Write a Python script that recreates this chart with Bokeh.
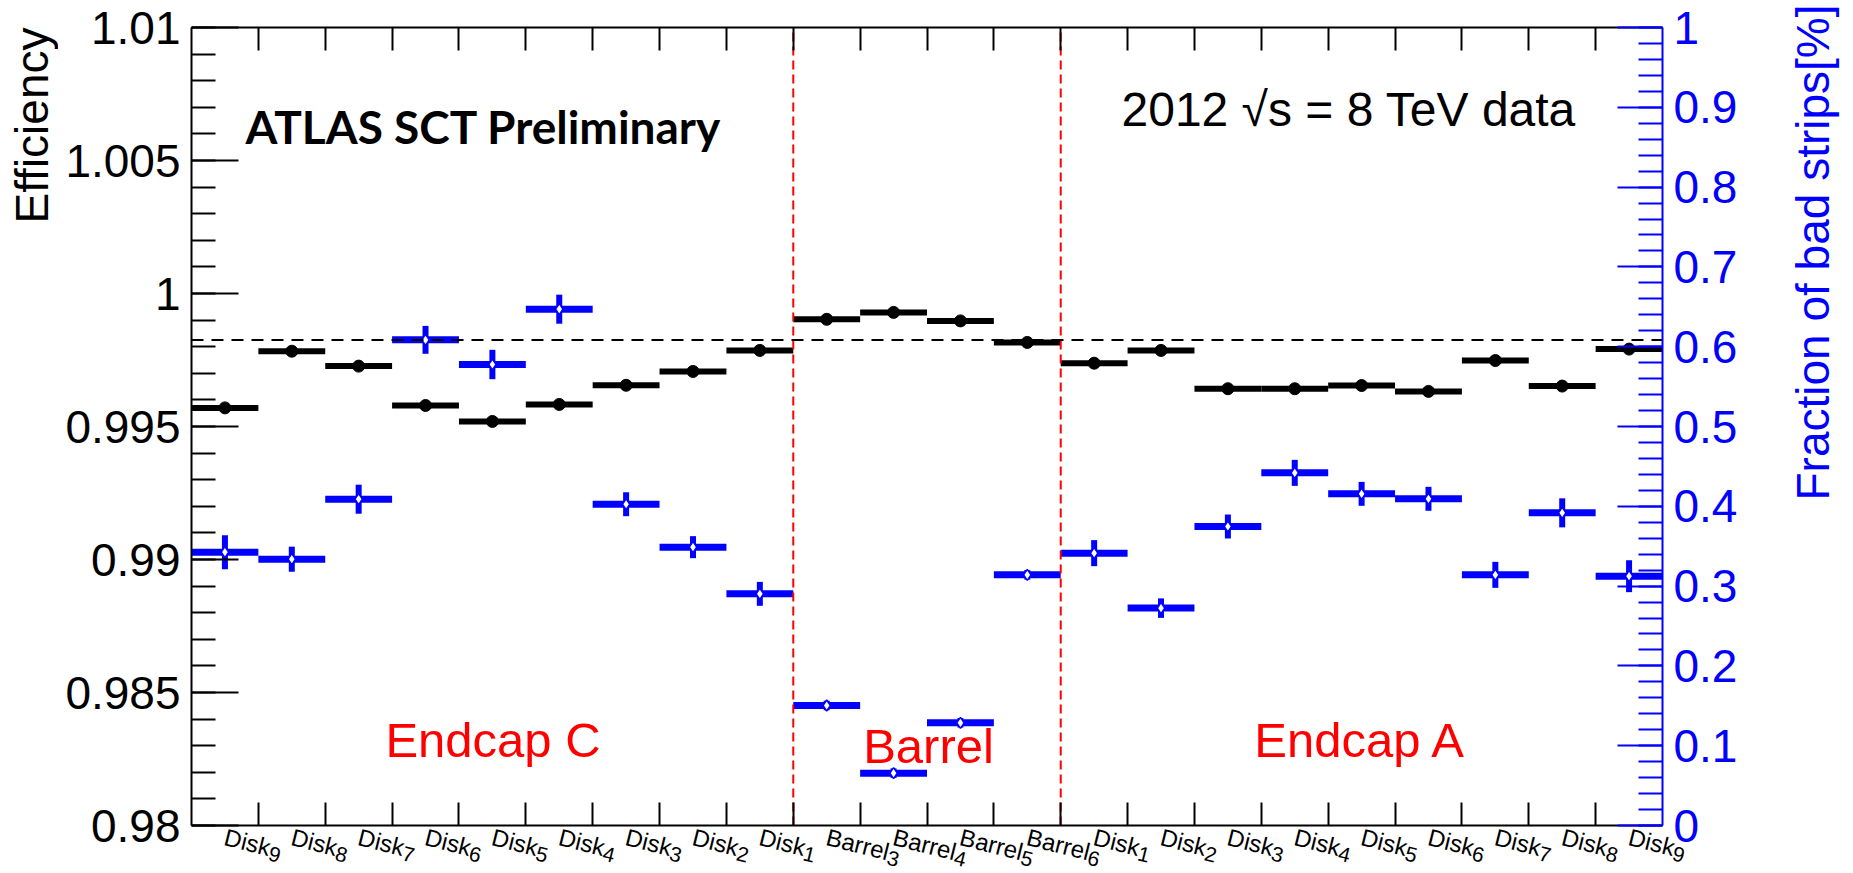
import math
import numpy as np
from bokeh.plotting import figure
from bokeh.layouts import row
from bokeh.core.properties import value
from bokeh.models import (Range1d, LinearAxis, FixedTicker, CustomJSTickFormatter,
                          Label, ColumnDataSource)
from bokeh.embed import file_html
from bokeh.resources import INLINE

# ---- data -------------------------------------------------------------
region_names = ["Endcap C", "Barrel", "Endcap A"]
layer_names = (["Disk"] * 9) + (["Barrel"] * 4) + (["Disk"] * 9)
layer_numbers = ["9", "8", "7", "6", "5", "4", "3", "2", "1",
                 "3", "4", "5", "6",
                 "1", "2", "3", "4", "5", "6", "7", "8", "9"]

efficiency = [0.99570, 0.99783, 0.99727, 0.99579, 0.99519, 0.99583, 0.99655, 0.99707, 0.99786,
              0.99903, 0.99929, 0.99897, 0.99816,
              0.99738, 0.99786, 0.99642, 0.99642, 0.99654, 0.99632, 0.99748, 0.99652, 0.99791]

bad_strip_fraction = [0.3425, 0.3337, 0.4089, 0.6086, 0.5777, 0.6470, 0.4026, 0.3488, 0.2903,
                      0.1504, 0.0656, 0.1287, 0.3141,
                      0.3413, 0.2724, 0.3747, 0.4419, 0.4156, 0.4094, 0.3141, 0.3918, 0.3124]

bad_strip_error = [0.0213, 0.0157, 0.0182, 0.0175, 0.0184, 0.0182, 0.0150, 0.0138, 0.0150,
                   0.0060, 0.0060, 0.0060, 0.0060,
                   0.0163, 0.0122, 0.0150, 0.0163, 0.0150, 0.0150, 0.0163, 0.0182, 0.0200]

mean_efficiency = 0.99825

eff_ticks = [0.98, 0.985, 0.99, 0.995, 1.0, 1.005, 1.01]
frac_ticks = [0.0, 0.1, 0.2, 0.3, 0.4, 0.5, 0.6, 0.7, 0.8, 0.9, 1.0]

# ---- layout -----------------------------------------------------------
W, H = 1853, 873
LEFT_W = 58                                  # strip holding the left axis title
MAIN_W = W - LEFT_W
FL, FR, FT, FB = 191, 1662, 27, 825          # plot box edges in page pixels
NBINS = len(efficiency)
EMIN, EMAX = eff_ticks[0], eff_ticks[-1]
FMIN, FMAX = frac_ticks[0], frac_ticks[-1]
BIN_PX = (FR - FL) / NBINS

BLUE = "#0000ff"
RED = "#ff0000"
FONT = "Liberation Sans"


def dx(px):
    return (px - FL) / BIN_PX


def dy(py):
    return EMAX - (py - FT) * (EMAX - EMIN) / (FB - FT)


def dfrac(py):
    return FMAX - (py - FT) * (FMAX - FMIN) / (FB - FT)


# the frame fills the page to the top, right and bottom so that labels and the
# right-hand title can sit outside the plot box; the top, bottom and right axes
# are pinned to the ends of the scales
p = figure(width=MAIN_W, height=H, x_range=Range1d(0, dx(W)), y_range=Range1d(dy(H), dy(0)),
           output_backend="svg", toolbar_location=None,
           min_border_left=FL - LEFT_W, min_border_right=0,
           min_border_top=0, min_border_bottom=0)
p.extra_y_ranges = {"frac": Range1d(dfrac(H), dfrac(0))}
p.outline_line_color = None
p.xgrid.visible = False
p.ygrid.visible = False

bin_edges = list(range(1, NBINS))

bx = p.xaxis[0]
bx.fixed_location = EMIN
top_axis = LinearAxis(fixed_location=EMAX)
p.add_layout(top_axis, "above")
for ax in [bx, top_axis]:
    ax.bounds = (0, NBINS)
    ax.ticker = FixedTicker(ticks=[], minor_ticks=bin_edges)
    ax.major_tick_in = 0
    ax.major_tick_out = 0
    ax.minor_tick_in = 23
    ax.minor_tick_out = 0
    ax.major_label_standoff = 0
    ax.axis_line_width = 2
    ax.minor_tick_line_width = 2
    ax.axis_line_color = "black"
    ax.minor_tick_line_color = "black"

fmt = CustomJSTickFormatter(code="return Number(tick.toFixed(4)).toString();")

# left axis: efficiency
ly = p.yaxis[0]
ly.bounds = (EMIN, EMAX)
ly.ticker = FixedTicker(ticks=eff_ticks,
                        minor_ticks=[round(v, 4) for v in np.arange(EMIN, EMAX + 1e-9, 0.001)])
ly.formatter = fmt
ly.major_tick_in = 47
ly.major_tick_out = 0
ly.minor_tick_in = 24
ly.minor_tick_out = 0
ly.axis_line_width = 2
ly.major_tick_line_width = 2
ly.minor_tick_line_width = 2
ly.major_label_text_font = FONT
ly.major_label_text_font_size = "46px"
ly.major_label_text_color = "black"
ly.major_label_standoff = 11

# right axis: fraction of bad strips
ry = LinearAxis(y_range_name="frac", fixed_location=NBINS)
ry.bounds = (FMIN, FMAX)
ry.ticker = FixedTicker(ticks=frac_ticks,
                        minor_ticks=[round(v, 3) for v in np.arange(FMIN, FMAX + 1e-9, 0.02)])
ry.formatter = fmt
ry.major_tick_in = 45
ry.major_tick_out = 0
ry.minor_tick_in = 24
ry.minor_tick_out = 0
ry.axis_line_width = 2
ry.major_tick_line_width = 2
ry.minor_tick_line_width = 2
ry.axis_line_color = BLUE
ry.major_tick_line_color = BLUE
ry.minor_tick_line_color = BLUE
ry.major_label_text_font = FONT
ry.major_label_text_font_size = "46px"
ry.major_label_text_color = BLUE
ry.major_label_standoff = 11
p.add_layout(ry, "right")

# ---- marks --------------------------------------------------------------
left = np.arange(NBINS)
centre = left + 0.5
frac = np.array(bad_strip_fraction)
ferr = np.array(bad_strip_error)

eff_src = ColumnDataSource(dict(x0=left, x1=left + 1, xc=centre, y=efficiency))
p.segment(x0="x0", x1="x1", y0="y", y1="y", source=eff_src, line_width=6, line_color="black")
p.scatter(x="xc", y="y", source=eff_src, size=12, color="black")

bad_src = ColumnDataSource(dict(x0=left, x1=left + 1, xc=centre, y=frac,
                                lo=frac - ferr, hi=frac + ferr))
p.segment(x0="x0", x1="x1", y0="y", y1="y", source=bad_src, line_width=7,
          line_color=BLUE, y_range_name="frac")
p.segment(x0="xc", x1="xc", y0="lo", y1="hi", source=bad_src, line_width=6,
          line_color=BLUE, y_range_name="frac")
p.scatter(x="xc", y="y", source=bad_src, marker="diamond", size=11, fill_color="white",
          line_color=BLUE, line_width=1.5, y_range_name="frac")

# region separators and the mean efficiency
n_endcap_c = layer_names[:9].count("Disk")
n_barrel = layer_names.count("Barrel")
sep_x = [n_endcap_c, n_endcap_c + n_barrel]
p.segment(x0=sep_x, x1=sep_x, y0=[EMIN] * 2, y1=[EMAX] * 2, line_color=RED,
          line_dash="9 5", line_width=2)
p.segment(x0=[0], x1=[NBINS], y0=[mean_efficiency], y1=[mean_efficiency],
          line_color="black", line_dash="12 8", line_width=2)

# ---- slanted bin labels with subscript layer numbers -----------------------
theta = 0.245
main_size = 24
sub_size = 21
em_width = {"Disk": 1.944, "Barrel": 2.667}
lab = dict(x=[], y=[], text=[])
sub = dict(x=[], y=[], text=[])
for i, (name, num) in enumerate(zip(layer_names, layer_numbers)):
    ax_px = FL + (i + 0.5) * BIN_PX
    ay_px = 836
    lab["x"].append(dx(ax_px))
    lab["y"].append(dy(ay_px))
    lab["text"].append(name)
    adv = em_width[name] * main_size
    drop = 5.5
    sub["x"].append(dx(ax_px + adv * math.cos(theta) - drop * math.sin(theta)))
    sub["y"].append(dy(ay_px + adv * math.sin(theta) + drop * math.cos(theta)))
    sub["text"].append(num)

p.text(x="x", y="y", text="text", source=ColumnDataSource(lab), angle=-theta,
       text_font=value(FONT), text_font_size=value(f"{main_size}px"), text_color="black",
       text_align="left", text_baseline="middle")
p.text(x="x", y="y", text="text", source=ColumnDataSource(sub), angle=-theta,
       text_font=value(FONT), text_font_size=value(f"{sub_size}px"), text_color="black",
       text_align="left", text_baseline="middle")


# ---- other texts -------------------------------------------------------------
def add_label(fig, x, y, text, **kw):
    opts = dict(text_font=FONT, text_font_size="49px", text_color="black",
                text_align="left", text_baseline="middle")
    opts.update(kw)
    fig.add_layout(Label(x=x, y=y, text=text, **opts))


add_label(p, dx(492.5), dy(739.5), region_names[0], text_color=RED, text_align="center")
add_label(p, dx(928), dy(745), region_names[1], text_color=RED, text_align="center")
add_label(p, dx(1360), dy(739.5), region_names[2], text_color=RED, text_align="center")

add_label(p, dx(245), dy(126), "ATLAS SCT Preliminary", text_font="Lato",
          text_font_style="bold", text_font_size="46px")
add_label(p, dx(1121), dy(108.5), "2012 \u221as = 8 TeV data", text_font_size="48px")

add_label(p, dx(1812.5), dy(4), "Fraction of bad strips[%]", angle=math.pi / 2,
          text_align="right", text_font_size="46px", text_color=BLUE)

# left axis title in a narrow strip beside the plot
left_strip = figure(width=LEFT_W, height=H, x_range=Range1d(0, LEFT_W), y_range=Range1d(0, H),
                    output_backend="svg", toolbar_location=None,
                    x_axis_location=None, y_axis_location=None, min_border=0)
left_strip.outline_line_color = None
left_strip.grid.visible = False
add_label(left_strip, 31, H - 27, "Efficiency", angle=math.pi / 2, text_align="right",
          text_font_size="46px")

layout = row(left_strip, p, spacing=0)
open("out.html", "w").write(file_html(layout, INLINE))
